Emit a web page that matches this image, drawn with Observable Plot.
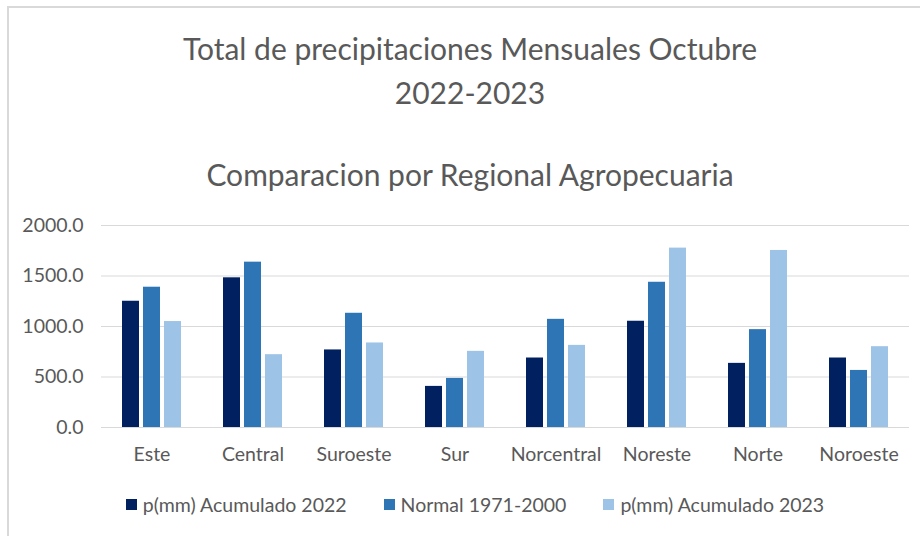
<!DOCTYPE html>
<html>
<head>
<meta charset="utf-8">
<script src="https://cdn.jsdelivr.net/npm/d3@7"></script>
<script src="https://cdn.jsdelivr.net/npm/@observablehq/plot@0.6"></script>
<style>
  html, body { margin: 0; padding: 0; background: #fff; }
  #wrap { position: relative; width: 920px; height: 536px; overflow: hidden; font-family: Lato, sans-serif; color: #595959; }
  #frame { position: absolute; left: 7px; top: 6px; width: 930px; height: 540px; border-left: 2px solid #d9d9d9; border-top: 2px solid #d9d9d9; }
  .title { position: absolute; left: 20px; width: 900px; text-align: center; font-size: 30px; line-height: 1; white-space: nowrap; }
  #chart { position: absolute; left: 0; top: 200px; }
  #legend { position: absolute; top: 493px; left: 0; width: 950px; display: flex; justify-content: center; gap: 37px; font-size: 19.5px; }
  .item { display: flex; align-items: center; gap: 6px; white-space: nowrap; }
  .sw { width: 11px; height: 11px; display: inline-block; }
</style>
</head>
<body>
<div id="wrap">
  <div id="frame"></div>
  <div class="title" style="top:33px">Total de precipitaciones Mensuales Octubre</div>
  <div class="title" style="top:77px">2022-2023</div>
  <div class="title" style="top:159px">Comparacion por Regional Agropecuaria</div>
  <div id="chart"></div>
  <div id="legend"></div>
</div>
<script>
const regions = ["Este", "Central", "Suroeste", "Sur", "Norcentral", "Noreste", "Norte", "Noroeste"];
const series = ["p(mm) Acumulado 2022", "Normal 1971-2000", "p(mm) Acumulado 2023"];
const acumulado2022 = [1250, 1482, 768, 407, 688, 1052, 635, 688];
const normal19712000 = [1389, 1637, 1131, 486, 1071, 1438, 969, 565];
const acumulado2023 = [1049, 721, 837, 754, 813, 1776, 1753, 800];
const colors = ["#002060", "#2E75B6", "#9DC3E6"];
const yTicks = [0, 500, 1000, 1500, 2000];

const columns = [acumulado2022, normal19712000, acumulado2023];
const data = [];
regions.forEach((r, i) => {
  series.forEach((s, j) => data.push({region: r, series: s, value: columns[j][i]}));
});

const chart = Plot.plot({
  width: 920,
  height: 270,
  marginLeft: 100,
  marginRight: 11,
  marginTop: 25,
  marginBottom: 43,
  style: {fontFamily: "Lato, sans-serif", fontSize: "19.5px", color: "#595959", background: "transparent"},
  fx: {domain: regions, padding: 0, axis: "bottom", tickSize: 0, tickPadding: 20, label: null},
  x: {domain: series, axis: null, paddingInner: 0.2, paddingOuter: 0.9},
  y: {domain: [0, 2000], ticks: yTicks, tickFormat: d3.format(".1f"), tickSize: 0, tickPadding: 18, label: null},
  color: {domain: series, range: colors},
  marks: [
    Plot.ruleY(yTicks, {stroke: "#d9d9d9", strokeWidth: 1}),
    Plot.barY(data, {fx: "region", x: "series", y: "value", fill: "series"})
  ]
});
document.getElementById("chart").appendChild(chart);

const legend = document.getElementById("legend");
series.forEach((s, j) => {
  const item = document.createElement("div");
  item.className = "item";
  const sw = document.createElement("span");
  sw.className = "sw";
  sw.style.background = colors[j];
  const t = document.createElement("span");
  t.textContent = s;
  item.appendChild(sw);
  item.appendChild(t);
  legend.appendChild(item);
});
</script>
</body>
</html>
